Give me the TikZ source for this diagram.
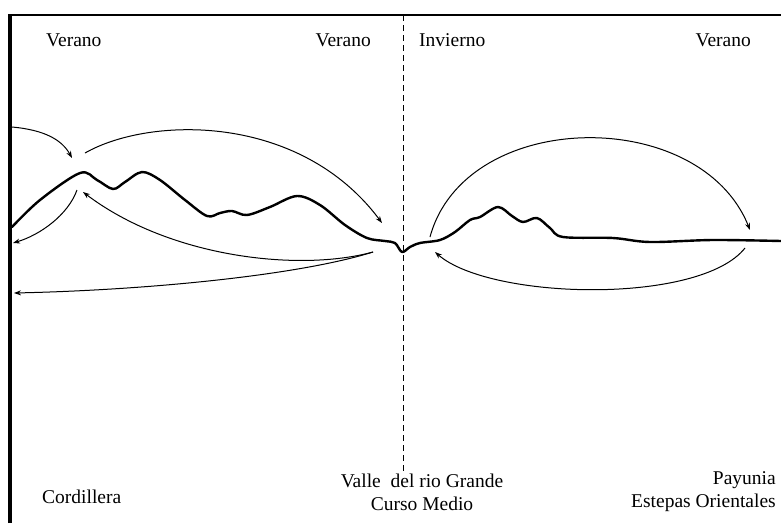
\documentclass[tikz,border=0pt]{standalone}
\usepackage{fontspec}
\setmainfont{Liberation Serif}
\usetikzlibrary{arrows.meta}

\begin{document}
\begin{tikzpicture}[
    x=1pt, y=-1pt,
    text=black,
    >={Stealth[length=7pt, width=5pt]},
    txt/.style={font=\fontsize{19.5}{23}\selectfont, inner sep=0pt},
    relief/.style={line width=2.4pt, line join=round, line cap=round},
    migra/.style={->, line width=1pt},
    borde/.style={line width=2pt},
]
\useasboundingbox (0,0) rectangle (781,523);

% ==================== FRAME ====================
\draw[borde] (10,15) -- (781,15);
\draw[borde, line width=3.6pt] (10,523) -- (10,14);
\draw[dash pattern=on 6pt off 4pt, line width=1pt] (403,15) -- (403,472);

% ==================== LABELS ====================
\node[txt, anchor=west] (veranoL) at (46,40) {Verano};
\node[txt, anchor=east] (veranoM) at (371,40) {Verano};
\node[txt, anchor=west] (invierno) at (419,40) {Invierno};
\node[txt, anchor=east] (veranoR) at (751,40) {Verano};

\node[txt, anchor=west] (cordillera) at (42,497) {Cordillera};
\node[txt, align=center] (valle) at (422,492) {Valle\ \ del rio Grande\\Curso Medio};
\node[txt, align=right, anchor=east] (payunia) at (776,492) {Payunia\\Estepas\ Orientales};

% ==================== RELIEF ====================
\draw[relief] plot[smooth, tension=0.55] coordinates {
    (12,227) (40,200) (80,173) (97,180) (113,189) (125,182) (142,172)
    (160,180) (185,200) (207,216) (220,213) (232,211) (247,215) (270,207)
    (297,196) (320,205) (345,225) (367,238) (385,241) (395,243) (402,252)
    (410,247) (420,243) (440,240) (455,232) (470,220) (480,217) (498,207)
    (512,216) (523,222) (537,218) (550,228) (563,237) (613,238) (650,242)
    (713,240) (781,241)};

% ==================== LEFT ARROWS ====================
\coordinate (bordeTop) at (12,127);
\coordinate (cumbreIn) at (72,158);
\coordinate (cumbreOut) at (85,153);
\coordinate (valleIn) at (382,223);
\coordinate (cumbreBaja) at (77,190);
\coordinate (bordeMid) at (13,243);
\coordinate (valleOut) at (373,252);
\coordinate (cumbreRet) at (83,192);
\coordinate (bordeLow) at (14,293);

\draw[migra] (bordeTop) .. controls (45,130) and (62,140) .. (cumbreIn);
\draw[migra] (cumbreOut) .. controls (150,116) and (300,113) .. (valleIn);
\draw[migra] (cumbreBaja) .. controls (68,215) and (40,235) .. (bordeMid);
\draw[migra] (valleOut) .. controls (300,272) and (170,258) .. (cumbreRet);
\draw[migra] (valleOut) .. controls (300,275) and (150,290) .. (bordeLow);

% ==================== RIGHT ARROWS ====================
\coordinate (valleR) at (430,237);
\coordinate (payIn) at (750,230);
\coordinate (payOut) at (745,248);
\coordinate (valleRIn) at (435,252);

\draw[migra] (valleR) .. controls (465,108) and (700,105) .. (payIn);
\draw[migra] (payOut) .. controls (700,305) and (490,300) .. (valleRIn);

\end{tikzpicture}
\end{document}
